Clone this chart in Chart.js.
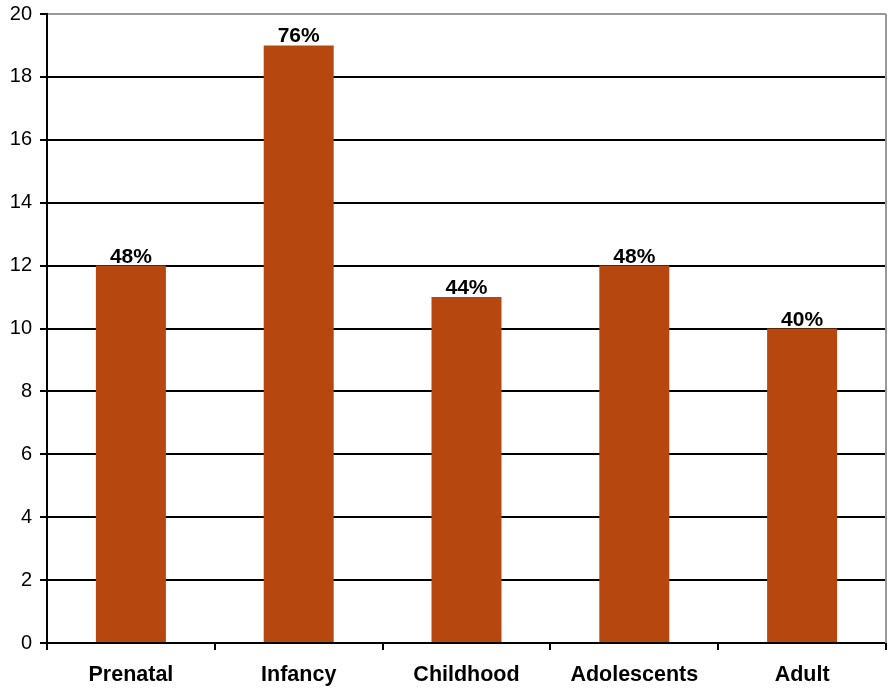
<!DOCTYPE html>
<html>
<head>
<meta charset="utf-8">
<script src="https://cdn.jsdelivr.net/npm/chart.js@4"></script>
<style>
html,body{margin:0;padding:0;background:#fff;}
#wrap{width:888px;height:688px;}
</style>
</head>
<body>
<div id="wrap"><canvas id="c" width="888" height="688"></canvas></div>
<script>
const categories = ["Prenatal", "Infancy", "Childhood", "Adolescents", "Adult"];
const values = [12, 19, 11, 12, 10];
const percentLabels = ["48%", "76%", "44%", "48%", "40%"];
const yTicks = [0, 2, 4, 6, 8, 10, 12, 14, 16, 18, 20];

const labelPlugin = {
  id: 'barLabels',
  afterDatasetsDraw(chart) {
    const ctx = chart.ctx;
    const meta = chart.getDatasetMeta(0);
    ctx.save();
    ctx.font = 'bold 21px Arial, "Liberation Sans", sans-serif';
    ctx.fillStyle = '#000';
    ctx.textAlign = 'center';
    ctx.textBaseline = 'alphabetic';
    meta.data.forEach((bar, i) => {
      ctx.fillText(percentLabels[i], bar.x, bar.y - 3);
    });
    ctx.restore();
  }
};

const borderPlugin = {
  id: 'rightBorder',
  beforeDatasetsDraw(chart) {
    const a = chart.chartArea;
    const ctx = chart.ctx;
    ctx.save();
    ctx.strokeStyle = '#999';
    ctx.lineWidth = 2;
    ctx.beginPath();
    ctx.moveTo(a.right, a.top);
    ctx.lineTo(a.right, a.bottom);
    ctx.stroke();
    ctx.restore();
  }
};

new Chart(document.getElementById('c'), {
  type: 'bar',
  data: {
    labels: categories,
    datasets: [{
      data: values,
      backgroundColor: '#B5470F',
      borderWidth: 0,
      barPercentage: 0.417,
      categoryPercentage: 1.0
    }]
  },
  options: {
    responsive: false,
    animation: false,
    devicePixelRatio: 1,
    layout: { padding: { top: 14, right: 2, left: 0, bottom: 0 } },
    plugins: { legend: { display: false }, tooltip: { enabled: false } },
    scales: {
      x: {
        grid: {
          offset: true,
          drawOnChartArea: false,
          drawTicks: true,
          tickLength: 7,
          color: '#000',
          lineWidth: 2
        },
        border: { display: true, color: '#000', width: 2 },
        ticks: {
          color: '#000',
          padding: 12,
          font: { family: 'Arial, "Liberation Sans", sans-serif', size: 21.5, weight: 'bold' }
        },
        afterFit(scale) { scale.height = 45; scale.paddingLeft = 0; scale.paddingRight = 0; }
      },
      y: {
        min: 0,
        max: 20,
        afterBuildTicks(scale) { scale.ticks = yTicks.map(v => ({ value: v })); },
        grid: {
          color: (c) => (c.tick && c.tick.value === 20 ? '#999' : '#000'),
          lineWidth: 2,
          drawTicks: true,
          tickLength: 7,
          tickColor: '#000'
        },
        border: { display: true, color: '#000', width: 2 },
        ticks: {
          color: '#000',
          padding: 8,
          font: { family: 'Arial, "Liberation Sans", sans-serif', size: 20 }
        },
        afterFit(scale) { scale.width = 47; scale.paddingTop = 0; scale.paddingBottom = 0; }
      }
    }
  },
  plugins: [labelPlugin, borderPlugin]
});
</script>
</body>
</html>
